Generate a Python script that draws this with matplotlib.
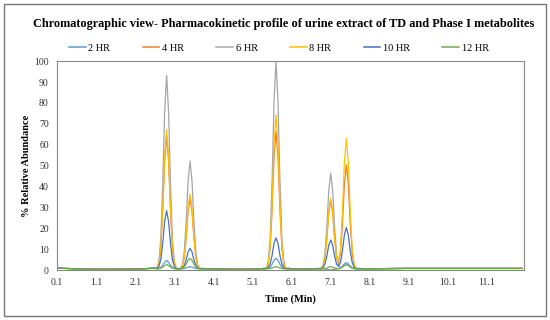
import matplotlib
matplotlib.use("Agg")
from matplotlib import pyplot as plt
from matplotlib.patches import Rectangle

# retention time (min)
time_min = [0.1, 0.3, 0.6, 1.1, 1.6, 2.1, 2.4, 2.6,
            2.65, 2.7, 2.75, 2.8, 2.85, 2.9, 2.95, 3.0, 3.05, 3.1, 3.15,
            3.2,
            3.25, 3.3, 3.35, 3.4, 3.45, 3.5, 3.55, 3.6, 3.65, 3.7, 3.75,
            4.0, 4.5, 5.0, 5.3,
            5.45, 5.5, 5.55, 5.6, 5.65, 5.7, 5.75, 5.8, 5.85, 5.9, 5.95,
            6.2, 6.5,
            6.85, 6.9, 6.95, 7.0, 7.05, 7.1, 7.15, 7.2, 7.25, 7.3, 7.35, 7.4,
            7.45, 7.5, 7.55, 7.6, 7.65, 7.7, 7.75,
            8.0, 8.5, 9.0, 9.5, 10.1, 11.1, 12.0]

hr2 = [1.0, 0.8, 0.6, 0.4, 0.4, 0.5, 0.7, 1.0,
       0.6, 0.7, 1.2, 2.3, 3.8, 4.6, 3.8, 2.3, 1.2, 0.7, 0.6,
       0.6,
       0.6, 0.6, 0.8, 1.0, 1.4, 1.6, 1.4, 1.0, 0.8, 0.6, 0.6,
       0.6, 0.4, 0.4, 0.6,
       0.6, 0.8, 1.4, 2.8, 4.7, 5.6, 4.7, 2.8, 1.4, 0.8, 0.6,
       0.5, 0.5,
       0.6, 0.6, 0.5, 0.4, 0.2, 0.1, 0.2, 0.4, 0.5, 0.7, 1.0, 1.9,
       3.0, 3.6, 3.0, 1.9, 1.1, 0.7, 0.6,
       0.6, 0.7, 0.8, 0.8, 0.8, 0.8, 0.8]

hr4 = [1.0, 0.8, 0.6, 0.4, 0.4, 0.5, 0.7, 1.0,
       0.9, 2.8, 10.2, 28.1, 52.4, 64.2, 52.4, 28.1, 10.2, 2.8, 0.9,
       0.6,
       0.8, 1.8, 5.7, 15.2, 28.1, 34.4, 28.1, 15.2, 5.7, 1.8, 0.8,
       0.6, 0.4, 0.4, 0.6,
       0.9, 2.8, 10.5, 29.0, 54.1, 66.2, 54.1, 29.0, 10.5, 2.8, 0.9,
       0.5, 0.5,
       0.8, 1.7, 5.6, 14.8, 27.3, 33.4, 27.3, 14.8, 5.8, 3.4, 8.3, 22.1,
       41.1, 50.4, 41.1, 22.1, 8.1, 2.3, 0.9,
       0.6, 0.7, 0.8, 0.8, 0.8, 0.8, 0.8]

hr6 = [1.0, 0.8, 0.6, 0.4, 0.4, 0.5, 0.7, 1.0,
       1.1, 3.8, 14.6, 40.6, 75.9, 93.2, 75.9, 40.6, 14.6, 3.8, 1.1,
       0.6,
       0.9, 2.4, 8.4, 23.0, 42.7, 52.2, 42.7, 23.0, 8.4, 2.4, 0.9,
       0.6, 0.4, 0.4, 0.6,
       1.1, 4.0, 15.5, 43.3, 81.0, 99.8, 81.0, 43.3, 15.5, 4.0, 1.1,
       0.5, 0.5,
       0.8, 2.2, 7.5, 20.4, 37.9, 46.4, 37.9, 20.4, 7.5, 2.2, 1.1, 1.5,
       2.2, 2.6, 2.2, 1.5, 0.9, 0.7, 0.6,
       0.6, 0.7, 0.8, 0.8, 0.8, 0.8, 0.8]

hr8 = [1.0, 0.8, 0.6, 0.4, 0.4, 0.5, 0.7, 1.0,
       0.9, 2.9, 10.7, 29.4, 54.9, 67.2, 54.9, 29.4, 10.7, 2.9, 0.9,
       0.6,
       0.8, 1.8, 6.0, 16.1, 29.8, 36.4, 29.8, 16.1, 6.0, 1.8, 0.8,
       0.6, 0.4, 0.4, 0.6,
       1.0, 3.1, 11.7, 32.4, 60.5, 74.2, 60.5, 32.4, 11.7, 3.1, 1.0,
       0.5, 0.5,
       0.8, 1.8, 5.7, 15.2, 28.1, 34.4, 28.1, 15.2, 6.0, 3.9, 10.2, 27.7,
       51.6, 63.2, 51.6, 27.7, 10.1, 2.7, 0.9,
       0.6, 0.7, 0.8, 0.8, 0.8, 0.8, 0.8]

hr10 = [1.0, 0.8, 0.6, 0.4, 0.4, 0.5, 0.7, 1.0,
        0.7, 1.6, 4.8, 12.6, 23.3, 28.4, 23.3, 12.6, 4.8, 1.6, 0.7,
        0.6,
        0.7, 0.9, 2.1, 4.9, 8.7, 10.4, 8.7, 4.9, 2.1, 0.9, 0.7,
        0.6, 0.4, 0.4, 0.6,
        0.7, 1.1, 2.9, 7.1, 12.8, 15.4, 12.8, 7.1, 2.9, 1.1, 0.7,
        0.5, 0.5,
        0.7, 1.1, 2.7, 6.6, 11.9, 14.4, 11.9, 6.6, 2.8, 1.8, 3.7, 9.2,
        16.8, 20.4, 16.8, 9.2, 3.6, 1.3, 0.7,
        0.6, 0.7, 0.8, 0.8, 0.8, 0.8, 0.8]

hr12 = [1.0, 0.8, 0.6, 0.4, 0.4, 0.5, 0.7, 1.0,
        0.6, 0.7, 0.9, 1.5, 2.2, 2.6, 2.2, 1.5, 0.9, 0.7, 0.6,
        0.6,
        0.6, 0.8, 1.4, 2.8, 4.7, 5.6, 4.7, 2.8, 1.4, 0.8, 0.6,
        0.6, 0.4, 0.4, 0.6,
        0.6, 0.6, 0.8, 1.0, 1.4, 1.6, 1.4, 1.0, 0.8, 0.6, 0.6,
        0.5, 0.5,
        0.6, 0.6, 0.8, 1.0, 1.4, 1.6, 1.4, 1.0, 0.8, 0.7, 0.9, 1.5,
        2.2, 2.6, 2.2, 1.5, 0.9, 0.7, 0.6,
        0.6, 0.7, 0.8, 0.8, 0.8, 0.8, 0.8]

series = [hr2, hr4, hr6, hr8, hr10, hr12]
labels = ["2 HR", "4 HR", "6 HR", "8 HR", "10 HR", "12 HR"]
colors = ["#5B9BD5", "#ED7D31", "#A5A5A5", "#FFC000", "#4472C4", "#70AD47"]

x_ticks = [0.1, 1.1, 2.1, 3.1, 4.1, 5.1, 6.1, 7.1, 8.1, 9.1, 10.1, 11.1]
y_ticks = [0, 10, 20, 30, 40, 50, 60, 70, 80, 90, 100]

plt.rcParams["font.family"] = ["Liberation Serif", "DejaVu Serif"]

fig = plt.figure(figsize=(5.5, 3.2), dpi=100)
ax = fig.add_axes([0.104, 0.156, 0.849, 0.653])

for vals, lab, col in zip(series, labels, colors):
    ax.plot(time_min, vals, color=col, linewidth=0.9, label=lab)

ax.set_xlim(0.1, 12.05)
ax.set_ylim(0, 100)
ax.set_xticks(x_ticks)
ax.set_xticklabels([f"{v:.1f}" for v in x_ticks])
ax.set_yticks(y_ticks)
ax.tick_params(length=0, labelsize=7, colors="#333333", pad=6)
for s in ax.spines.values():
    s.set_color("#888888")
    s.set_linewidth(0.8)

ax.set_xlabel("Time (Min)", fontsize=7.5, fontweight="bold", labelpad=5)
ax.set_ylabel("% Relative Abundance", fontsize=7.5, fontweight="bold", labelpad=2)

fig.text(0.515, 0.925, "Chromatographic view- Pharmacokinetic profile of urine extract of TD and Phase I metabolites",
         ha="center", va="center", fontsize=8.8, fontweight="bold")

leg = fig.legend(loc="center", bbox_to_anchor=(0.507, 0.85), ncol=6, frameon=False,
                 fontsize=7.5, handlelength=1.6, handletextpad=0.25, columnspacing=3.1)
for h in leg.get_lines():
    h.set_linewidth(1.1)

fig.add_artist(Rectangle((0.007, 0.012), 0.985, 0.975, transform=fig.transFigure,
                         fill=False, edgecolor="#777777", linewidth=1.0))

fig.savefig("out.png", dpi=100)
